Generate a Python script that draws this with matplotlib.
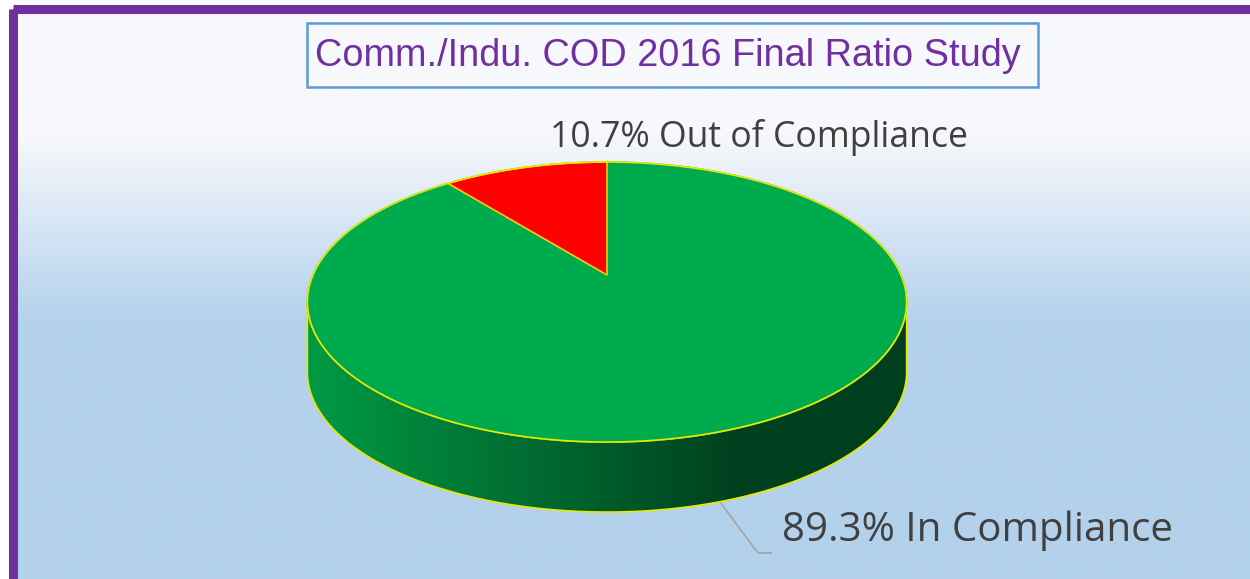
import numpy as np
import matplotlib.pyplot as plt
from matplotlib.patches import Polygon, Rectangle
from matplotlib.colors import LinearSegmentedColormap

# data
labels = ["Out of Compliance", "In Compliance"]
shares = [10.7, 89.3]
slice_colors = ["#ff0000", "#00ab4e"]
title = "Comm./Indu. COD 2016 Final Ratio Study"

W, H = 1250, 579
fig = plt.figure(figsize=(12.5, 5.79), dpi=100)
ax = fig.add_axes([0, 0, 1, 1])
ax.set_xlim(0, W)
ax.set_ylim(H, 0)
ax.axis("off")

# background gradient + purple frame
bg = LinearSegmentedColormap.from_list("bg", [(0, "#f7f8fc"), (0.23, "#f7f8fc"), (0.56, "#b3d1eb"), (1, "#b3d1eb")])
grad = np.linspace(0, 1, 300).reshape(-1, 1)
ax.imshow(grad, cmap=bg, extent=[0, W, H, 0], aspect="auto", zorder=0)
ax.add_patch(Rectangle((0, 0), W, 5, color="white", zorder=1))
ax.add_patch(Rectangle((0, 0), 8, H, color="white", zorder=1))
ax.add_patch(Rectangle((12.5, 9), 1239, H + 20, fill=False, ec="#7030a0", lw=6.5, zorder=2))

# title box
ax.add_patch(Rectangle((307, 23), 731, 64, fc="#f7f8fc", ec="#5b9bd5", lw=1.8, zorder=3))
ax.text(668, 56, title, ha="center", va="center", fontsize=27.3, color="#7030a0",
        family=["Liberation Sans Narrow", "Liberation Sans", "DejaVu Sans"], zorder=4)

# perspective pie geometry
cx, cy = 607, 275
a, b, k = 294, 134.8, 0.193
depth = 70


def proj(t, dy=0):
    u, v = np.cos(t), np.sin(t)
    d = 1 + k * v
    return cx + a * u / d, cy - b * v / d + dy


t_all = np.linspace(0, 2 * np.pi, 721)
x_top, y_top = proj(t_all)

# side (front half between the two horizontal extremes)
t0 = np.arcsin(-k)
t_front = np.linspace(np.pi - t0, 2 * np.pi + t0, 400)
fx, fy = proj(t_front)
side_x = np.concatenate([fx, fx[::-1]])
side_y = np.concatenate([fy, fy[::-1] + depth])
side = Polygon(np.column_stack([side_x, side_y]), closed=True, fc="none", ec="#e8e800", lw=1.2, zorder=5)
ax.add_patch(side)
side_cmap = LinearSegmentedColormap.from_list("side", [(0, "#009a44"), (0.72, "#00401f"), (1, "#00401f")])
sgrad = np.linspace(0, 1, 400).reshape(1, -1)
im = ax.imshow(sgrad, cmap=side_cmap, extent=[fx.min(), fx.max(), fy.max() + depth + 2, fy.min() - 2],
               aspect="auto", zorder=4)
im.set_clip_path(side)

# top face
ax.fill(x_top, y_top, color=slice_colors[1], zorder=6)
ax.plot(x_top, y_top, color="#e8e800", lw=1.2, zorder=8)

start = np.pi / 2
frac = shares[0] / sum(shares)
t_red = np.linspace(start, start + 2 * np.pi * frac, 100)
rx, ry = proj(t_red)
ax.fill(np.concatenate([[cx], rx]), np.concatenate([[cy], ry]), fc=slice_colors[0],
        ec="#f0d000", lw=1.2, zorder=7)

# labels
lab_font = ["Open Sans", "DejaVu Sans"]
ax.text(550, 137, f"{shares[0]}% {labels[0]}", ha="left", va="center", fontsize=25.7,
        color="#404040", family=lab_font, zorder=9)
ax.plot([720, 758, 771], [502, 553, 553], color="#a6a6a6", lw=1.3, zorder=3)
ax.text(782, 531, f"{shares[1]}% {labels[1]}", ha="left", va="center", fontsize=29,
        color="#404040", family=lab_font, zorder=9)

fig.savefig("out.png", dpi=100)
